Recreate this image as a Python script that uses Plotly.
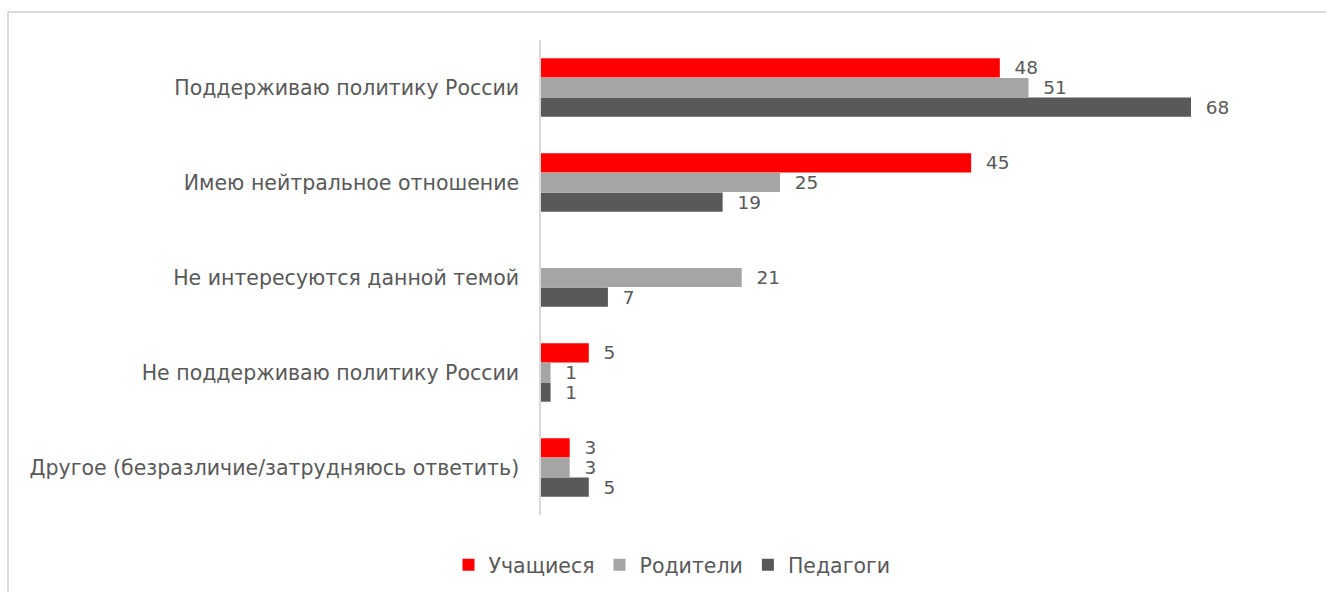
import plotly.graph_objects as go

categories = [
    "Поддерживаю политику России",
    "Имею нейтральное отношение",
    "Не интересуются данной темой",
    "Не поддерживаю политику России",
    "Другое (безразличие/затрудняюсь ответить)",
]
students = [48, 45, None, 5, 3]
parents = [51, 25, 21, 1, 3]
teachers = [68, 19, 7, 1, 5]
series_names = ["Учащиеся", "Родители", "Педагоги"]
colors = ["#ff0000", "#a5a5a5", "#595959"]

W, H = 1326, 592
L, R, T, B = 541, 30, 40, 77
pw = W - L - R
ph = H - T - B

fig = go.Figure()
for name, vals, col in zip(series_names, [students, parents, teachers], colors):
    fig.add_trace(go.Bar(
        y=categories, x=vals, name=name, orientation="h",
        marker=dict(color=col, line=dict(width=0)),
        text=[("" if v is None else "  " + str(v)) for v in vals],
        textposition="outside", cliponaxis=False, constraintext="none",
        textfont=dict(color="#595959", size=18.5),
    ))

def px_x(p):
    return (p - L) / pw

def px_y(p):
    return (H - B - p) / ph

fig.add_shape(type="line", xref="paper", yref="paper",
              x0=px_x(8), x1=px_x(1400), y0=px_y(12), y1=px_y(12),
              line=dict(color="#d9d9d9", width=2))
fig.add_shape(type="line", xref="paper", yref="paper",
              x0=px_x(8), x1=px_x(8), y0=px_y(12), y1=px_y(700),
              line=dict(color="#d9d9d9", width=2))

fig.update_layout(
    width=W, height=H,
    margin=dict(l=L, r=R, t=T, b=B, autoexpand=False),
    paper_bgcolor="white", plot_bgcolor="white",
    barmode="group", bargap=0.38, bargroupgap=0.02,
    font=dict(family="DejaVu Sans", color="#595959", size=20),
    showlegend=True,
    legend=dict(orientation="h", x=672 / W, xref="container", xanchor="center",
                y=1 - 565 / H, yref="container", yanchor="middle",
                font=dict(size=20.5, color="#595959"),
                itemwidth=30, traceorder="normal"),
    xaxis=dict(range=[0, pw / (650 / 68)], showticklabels=False,
               showgrid=False, zeroline=False, showline=False),
    yaxis=dict(autorange="reversed", showgrid=False, zeroline=False,
               showline=True, linecolor="#d9d9d9", linewidth=1.5,
               ticks="", ticklabelstandoff=16,
               tickfont=dict(size=20.5, color="#595959")),
)

fig.write_html("out.html", config={"displayModeBar": False},
               post_script="document.body.style.margin='0';")
